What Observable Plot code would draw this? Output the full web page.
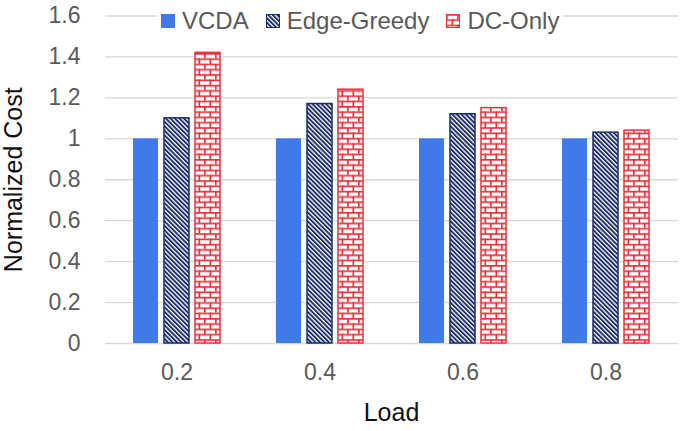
<!DOCTYPE html>
<html><head><meta charset="utf-8">
<script src="https://cdn.jsdelivr.net/npm/d3@7"></script>
<script src="https://cdn.jsdelivr.net/npm/@observablehq/plot@0.6"></script>
<style>
body{margin:0;background:#fff;}
#chart{position:relative;width:685px;height:431px;font-family:"Liberation Sans",Arial,sans-serif;}
#chart > svg{position:absolute;left:0;top:0;}
#legend{position:absolute;left:157px;top:7px;height:28px;background:#fff;display:flex;align-items:center;padding:0 4px;font-size:24px;color:#595959;font-family:"Liberation Sans",Arial,sans-serif;}
.item{display:flex;align-items:center;margin-right:17px;line-height:28px;}
.item:last-child{margin-right:0;}
.item svg{margin-right:7px;display:block;}
</style></head><body><div id="chart"></div>
<script>
const loads = ["0.2", "0.4", "0.6", "0.8"];
const seriesNames = ["VCDA", "Edge-Greedy", "DC-Only"];
const vcda = [1, 1, 1, 1];
const edgeGreedy = [1.10, 1.17, 1.12, 1.03];
const dcOnly = [1.42, 1.24, 1.15, 1.04];
const yTicks = [0, 0.2, 0.4, 0.6, 0.8, 1, 1.2, 1.4, 1.6];

const seriesValues = [vcda, edgeGreedy, dcOnly];
const rows = [];
seriesNames.forEach((s, si) => loads.forEach((l, li) => rows.push({load: l, series: s, value: seriesValues[si][li]})));

const blue = "#3f7ae8", navy = "#1a2c68", red = "#e8323c";
const looks = {
  "VCDA": {fill: blue, stroke: "none"},
  "Edge-Greedy": {fill: "url(#edgePat)", stroke: navy},
  "DC-Only": {fill: "url(#brickPat)", stroke: red}
};

const W = 685, H = 431;
const margins = {marginLeft: 105, marginRight: 7, marginTop: 15.5, marginBottom: 88};
const font = "'Liberation Sans', Arial, sans-serif";
const chart = document.getElementById("chart");

// background: grid + y axis
const bg = Plot.plot({
  width: W, height: H, ...margins,
  style: {fontFamily: font, background: "transparent", overflow: "visible"},
  y: {domain: [0, 1.6]},
  marks: [
    Plot.ruleY(yTicks, {stroke: "#d3dad8", strokeWidth: 1.3}),
    Plot.axisY(yTicks, {tickSize: 0, tickPadding: 25, fontSize: 23, fill: "#595959", tickFormat: d => String(d), label: null}),
    Plot.axisY({ticks: [], label: "Normalized Cost", labelAnchor: "center", labelArrow: "none", labelOffset: 101, fontSize: 25, fill: "#111"})
  ]
});
chart.appendChild(bg);

// foreground: bars with fx
const fg = Plot.plot({
  width: W, height: H, ...margins,
  style: {fontFamily: font, background: "transparent", overflow: "visible"},
  fx: {domain: loads, paddingInner: 0.39, paddingOuter: 0.195},
  x: {domain: seriesNames, paddingInner: 0.2, paddingOuter: 0, axis: null},
  y: {domain: [0, 1.6], axis: null},
  marks: [
    ...seriesNames.map(s => Plot.barY(rows.filter(r => r.series === s), {
      fx: "load", x: "series", y: "value",
      fill: looks[s].fill, stroke: looks[s].stroke, strokeWidth: 1.5
    })),
    Plot.axisFx({anchor: "bottom", tickSize: 0, tickPadding: 20, fontSize: 23, fill: "#595959", label: null}),
    Plot.axisFx({anchor: "bottom", ticks: [], label: "Load", labelAnchor: "center", labelArrow: "none", labelOffset: 77, fontSize: 25, fill: "#111"})
  ]
});
chart.appendChild(fg);

// patterns
const defs = d3.select(fg).insert("defs", ":first-child");
const ep = defs.append("pattern").attr("id", "edgePat").attr("patternUnits", "userSpaceOnUse")
  .attr("width", 3.2).attr("height", 3.2).attr("patternTransform", "rotate(-45)");
ep.append("rect").attr("width", 3.2).attr("height", 3.2).attr("fill", "#fff");
ep.append("rect").attr("width", 1.9).attr("height", 3.2).attr("fill", navy);
const bp = defs.append("pattern").attr("id", "brickPat").attr("patternUnits", "userSpaceOnUse")
  .attr("width", 11).attr("height", 10.6);
bp.append("rect").attr("width", 11).attr("height", 10.6).attr("fill", "#fff");
bp.append("rect").attr("x", 0).attr("y", 0).attr("width", 11).attr("height", 1.7).attr("fill", red);
bp.append("rect").attr("x", 0).attr("y", 5.3).attr("width", 11).attr("height", 1.7).attr("fill", red);
bp.append("rect").attr("x", 0).attr("y", 0).attr("width", 1.7).attr("height", 5.3).attr("fill", red);
bp.append("rect").attr("x", 5.5).attr("y", 5.3).attr("width", 1.7).attr("height", 5.3).attr("fill", red);

// legend
const legend = document.createElement("div");
legend.id = "legend";
seriesNames.forEach(s => {
  const item = document.createElement("div");
  item.className = "item";
  const sw = d3.create("svg").attr("width", 14).attr("height", 14);
  sw.append("rect").attr("x", 0.5).attr("y", 0.5).attr("width", 13).attr("height", 13)
    .attr("fill", looks[s].fill).attr("stroke", looks[s].stroke === "none" ? looks[s].fill : looks[s].stroke).attr("stroke-width", 1);
  item.appendChild(sw.node());
  const t = document.createElement("span");
  t.textContent = s;
  item.appendChild(t);
  legend.appendChild(item);
});
chart.appendChild(legend);
</script></body></html>
